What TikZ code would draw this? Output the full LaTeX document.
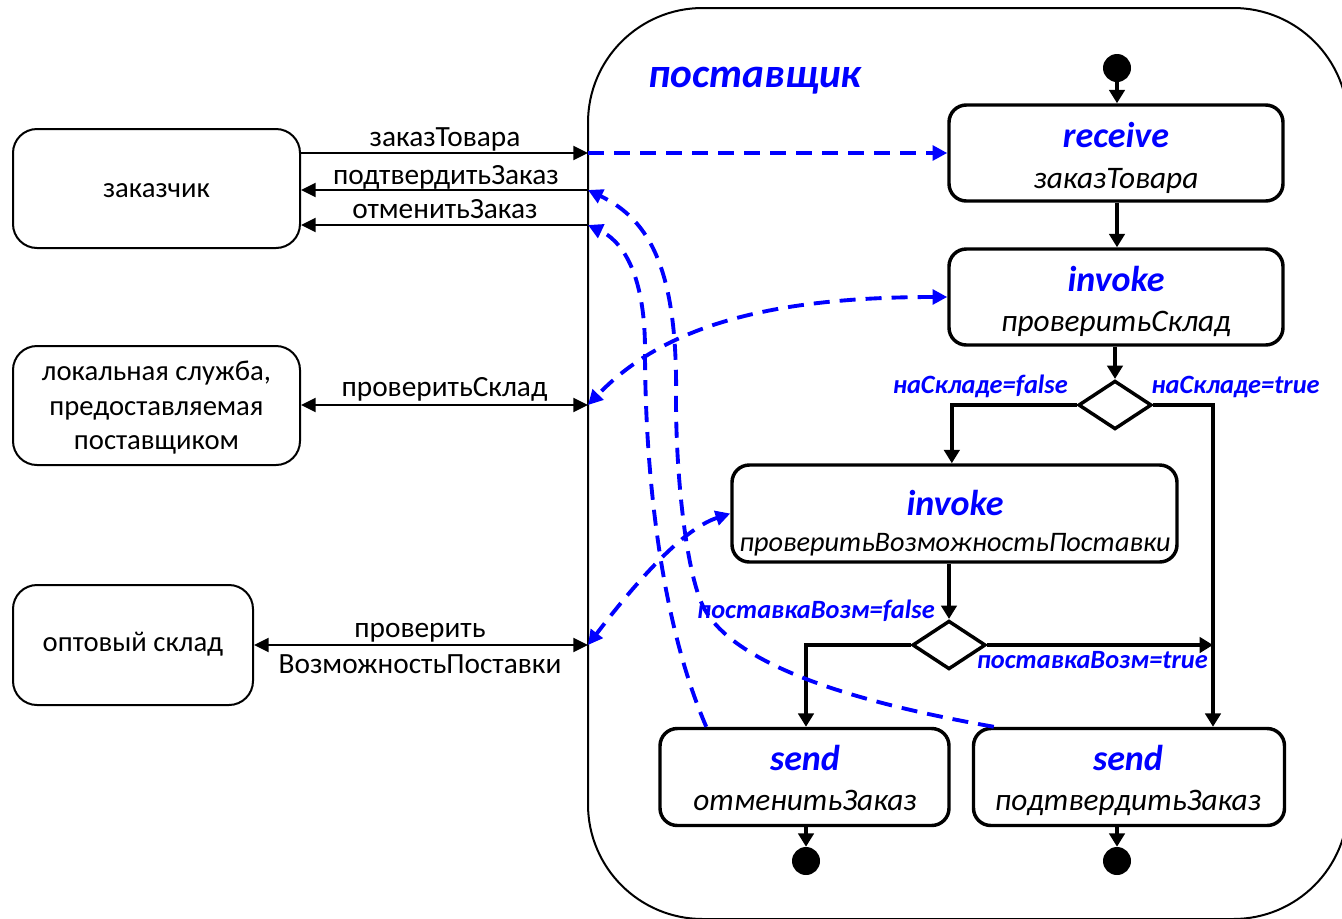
\documentclass[tikz,border=0pt]{standalone}
\usepackage{fontspec}
\setmainfont{Carlito}
\usetikzlibrary{arrows.meta,shapes.geometric}
\definecolor{kwblue}{RGB}{0,0,255}

\tikzset{
  actor/.style={draw, line width=1.5pt, rounded corners=18pt, inner sep=0pt},
  actortext/.style={font=\fontsize{21.5}{25.5}\selectfont, inner sep=0pt, align=center},
  container/.style={draw, line width=1.5pt, rounded corners=86pt, inner sep=0pt},
  title/.style={text=kwblue, font=\fontsize{31}{36}\selectfont\bfseries\itshape, inner sep=0pt},
  activity/.style={draw, line width=2.6pt, rounded corners=13pt, inner sep=0pt},
  kw/.style={text=kwblue, font=\fontsize{27}{30}\selectfont\bfseries\itshape, inner sep=0pt},
  op/.style={font=\fontsize{23.5}{27}\selectfont\itshape, inner sep=0pt},
  msglabel/.style={font=\fontsize{22}{25}\selectfont, inner sep=0pt},
  guard/.style={text=kwblue, font=\fontsize{19.8}{22}\selectfont\bfseries\itshape, inner sep=0pt},
  decision/.style={draw, diamond, line width=2.6pt, minimum width=55pt, minimum height=36.5pt, inner sep=0pt},
  startdot/.style={circle, fill=black, minimum size=21pt, inner sep=0pt},
  flow/.style={line width=2.6pt, -{Triangle[length=10pt,width=11.5pt]}},
  msg/.style={line width=1.5pt},
  msgto/.style={msg, -{Triangle[length=11pt,width=10.5pt]}},
  msgboth/.style={msg, {Triangle[length=11pt,width=10.5pt]}-{Triangle[length=11pt,width=10.5pt]}},
  link/.style={draw=kwblue, line width=2.9pt, dash pattern=on 12pt off 7.5pt},
  linkto/.style={link, -{Triangle[length=11pt,width=11pt]}},
  linkboth/.style={link, {Triangle[length=11pt,width=11pt]}-{Triangle[length=11pt,width=11pt]}}
}

\begin{document}
\begin{tikzpicture}[x=0.75pt,y=-0.75pt]
\useasboundingbox (0,0) rectangle (1342,918);

% supplier swimlane
\node[container, minimum width=570pt, minimum height=683.25pt] (supplier) at (968,463.5) {};
\node[title, anchor=base] (supplier-t) at (755,87) {поставщик};

% partners
\node[actor, minimum width=215.25pt, minimum height=89.25pt] (cust) at (156.5,188.5) {};
\node[actortext, anchor=base] (cust-t) at (156.5,197) {заказчик};
\node[actor, minimum width=215.25pt, minimum height=89.25pt] (local) at (156.5,405.5) {};
\node[actortext, anchor=base] (local-t1) at (156.5,380) {локальная служба,};
\node[actortext, anchor=base] (local-t2) at (156.5,415) {предоставляемая};
\node[actortext, anchor=base] (local-t3) at (156.5,449) {поставщиком};
\node[actor, minimum width=180pt, minimum height=90pt] (whole) at (133,645) {};
\node[actortext, anchor=base] (whole-t) at (133,651) {оптовый склад};

% ports on the swimlane border
\coordinate (p1) at (588,153);
\coordinate (p2) at (588,190);
\coordinate (p3) at (588,225);
\coordinate (p4) at (588,405);
\coordinate (p5) at (588,645);

% messages
\draw[msgto] (cust.east |- p1) -- (p1);
\draw[msgto] (p2) -- (cust.east |- p2);
\draw[msgto] (p3) -- (cust.east |- p3);
\draw[msgboth] (local.east |- p4) -- (p4);
\draw[msgboth] (whole.east |- p5) -- (p5);
\node[msglabel, anchor=base] (m1) at (445,146) {заказТовара};
\node[msglabel, anchor=base] (m2) at (446,184) {подтвердитьЗаказ};
\node[msglabel, anchor=base] (m3) at (445,218) {отменитьЗаказ};
\node[msglabel, anchor=base] (m4) at (444.5,396) {проверитьСклад};
\node[msglabel, anchor=base] (m5a) at (420,637) {проверить};
\node[msglabel, anchor=base] (m5b) at (420,673) {ВозможностьПоставки};

% activities
\node[startdot] (init) at (1117,68) {};
\node[activity, minimum width=250.5pt, minimum height=72pt] (recv) at (1116,153) {};
\node[kw, anchor=base] (recv-k) at (1116,147) {receive};
\node[op, anchor=base] (recv-o) at (1116,188) {заказТовара};

\node[activity, minimum width=250.5pt, minimum height=72pt] (inv1) at (1116,297) {};
\node[kw, anchor=base] (inv1-k) at (1116,291) {invoke};
\node[op, anchor=base] (inv1-o) at (1116,331) {проверитьСклад};

\node[decision] (d1) at (1115,405) {};

\node[activity, minimum width=333.75pt, minimum height=72.75pt] (inv2) at (954.5,513.5) {};
\node[kw, anchor=base] (inv2-k) at (955,515) {invoke};
\node[op, anchor=base, font=\fontsize{21.2}{25}\selectfont\itshape] (inv2-o) at (955,551) {проверитьВозможностьПоставки};

\node[decision] (d2) at (949,645) {};

\node[activity, minimum width=216.75pt, minimum height=72.75pt] (send1) at (804.5,777) {};
\node[kw, anchor=base] (send1-k) at (805,770) {send};
\node[op, anchor=base] (send1-o) at (805,810) {отменитьЗаказ};

\node[activity, minimum width=233.25pt, minimum height=72.75pt] (send2) at (1129,777) {};
\node[kw, anchor=base] (send2-k) at (1128,770) {send};
\node[op, anchor=base] (send2-o) at (1128,810) {подтвердитьЗаказ};

\node[startdot] (fin1) at (806,861) {};
\node[startdot] (fin2) at (1117,861) {};

\coordinate (j) at (1213,645);

% control flow
\draw[flow] (init) -- (recv.north -| init);
\draw[flow] (recv.south -| init) -- (inv1.north -| init);
\draw[flow] (inv1.south -| d1) -- (d1.north);
\draw[flow] (d1.west) -| ([xshift=-2pt]inv2.north);
\draw[flow] (d1.east) -| (send2.north -| j);
\draw[flow] (inv2.south -| d2) -- (d2.north);
\draw[flow] (d2.west) -| (send1.north -| fin1);
\draw[flow] (d2.east) -- (j);
\draw[flow] (send1.south -| fin1) -- (fin1);
\draw[flow] (send2.south -| fin2) -- (fin2);

% guards
\node[guard, anchor=base east] (g1) at (1068,393) {наСкладе=false};
\node[guard, anchor=base west] (g2) at (1151,393) {наСкладе=true};
\node[guard, anchor=base east] (g3) at (935,618) {поставкаВозм=false};
\node[guard, anchor=base east] (g4) at (1208,668) {поставкаВозм=true};

% port bindings
\draw[linkto] (p1) -- (recv.west);
\draw[linkboth] (inv1.west) .. controls (760,297) and (660,330) .. (p4);
\draw[linkboth] (inv2.west) .. controls (680,530) and (630,590) .. (p5);
\draw[linkto] ([xshift=36pt]send1.north west) .. controls (660,620) and (645,470) .. (645,350)
  .. controls (645,270) and (620,240) .. (p3);
\draw[linkto] ([xshift=16.5pt]send2.north west) .. controls (870,705) and (740,670) .. (705,610)
  .. controls (687,579) and (676,480) .. (676,400)
  .. controls (678,270) and (650,220) .. (p2);
\end{tikzpicture}
\end{document}
